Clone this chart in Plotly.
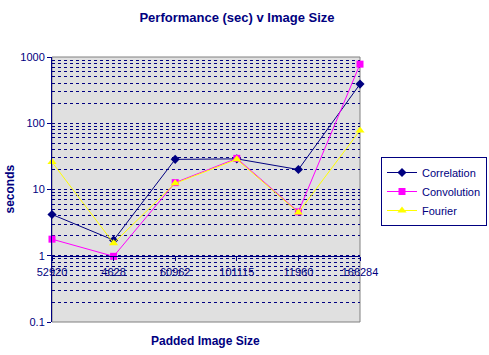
import plotly.graph_objects as go

categories = ["52920", "4628", "60962", "101115", "11960", "166284"]
correlation = [4.2, 1.72, 28.5, 29.0, 20.0, 390]
convolution = [1.78, 0.98, 12.7, 29.5, 4.6, 780]
fourier = [25.9, 1.55, 12.4, 28.5, 4.5, 78]

y_ticks = [0.1, 1, 10, 100, 1000]
y_tick_text = ["0.1", "1", "10", "100", "1000"]

NAVY = "#000080"
DASH = "3px,3px"
idx = list(range(len(categories)))

fig = go.Figure()
fig.add_trace(go.Scatter(x=idx, y=correlation, name="Correlation", mode="lines+markers",
                         line=dict(color=NAVY, width=1), cliponaxis=False,
                         marker=dict(symbol="diamond", size=7, color=NAVY)))
fig.add_trace(go.Scatter(x=idx, y=convolution, name="Convolution", mode="lines+markers",
                         line=dict(color="#FF00FF", width=1), cliponaxis=False,
                         marker=dict(symbol="square", size=7, color="#FF00FF")))
fig.add_trace(go.Scatter(x=idx, y=fourier, name="Fourier", mode="lines+markers",
                         line=dict(color="#FFFF00", width=1), cliponaxis=False,
                         marker=dict(symbol="triangle-up", size=8, color="#FFFF00")))

fig.update_layout(
    width=489, height=355,
    margin=dict(l=52, r=129, t=57, b=33, autoexpand=False),
    paper_bgcolor="white",
    plot_bgcolor="#E0E0E0",
    font=dict(family="Arial, Liberation Sans, sans-serif", size=11, color=NAVY),
    title=dict(text="<b>Performance (sec) v Image Size</b>", x=237/489, xanchor="center",
               y=1 - 17/355, yanchor="middle", font=dict(size=13, color=NAVY)),
    showlegend=True,
    legend=dict(x=(381-52)/308, y=(322-157)/265, xanchor="left", yanchor="top",
                bordercolor=NAVY, borderwidth=1, bgcolor="white",
                font=dict(size=11, color=NAVY), itemwidth=30,
                tracegroupgap=0),
    xaxis=dict(range=[0, 5], tickvals=idx, ticktext=categories,
               anchor="free", position=0.25,
               showline=True, linecolor=NAVY, linewidth=1,
               ticks="outside", ticklen=4, tickcolor=NAVY,
               ticklabelstandoff=2,
               showgrid=False, zeroline=False,
               tickfont=dict(size=11, color=NAVY)),
    yaxis=dict(type="log", range=[-1, 3], tickvals=y_ticks, ticktext=y_tick_text,
               showline=True, linecolor=NAVY, linewidth=1,
               ticks="outside", ticklen=4, tickcolor=NAVY,
               showgrid=True, gridcolor=NAVY, griddash=DASH, gridwidth=1,
               minor=dict(dtick="D1", showgrid=True, gridcolor=NAVY,
                          griddash=DASH, gridwidth=1, ticks=""),
               zeroline=False,
               tickfont=dict(size=11, color=NAVY)),
    shapes=[dict(type="rect", xref="paper", yref="paper", x0=0, x1=1, y0=0, y1=1,
                 line=dict(color="#808080", width=1), layer="below")],
    annotations=[
        dict(text="<b>seconds</b>", xref="paper", yref="paper", x=(9-52)/308, y=0.5,
             textangle=-90, showarrow=False, xanchor="center", yanchor="middle",
             font=dict(size=12, color=NAVY)),
        dict(text="<b>Padded Image Size</b>", xref="paper", yref="paper",
             x=(205-52)/308, y=-(341-322)/265, showarrow=False,
             xanchor="center", yanchor="middle", font=dict(size=12, color=NAVY)),
    ],
)

fig.write_html("out.html", config={"displayModeBar": False},
               post_script="document.body.style.margin='0';")
